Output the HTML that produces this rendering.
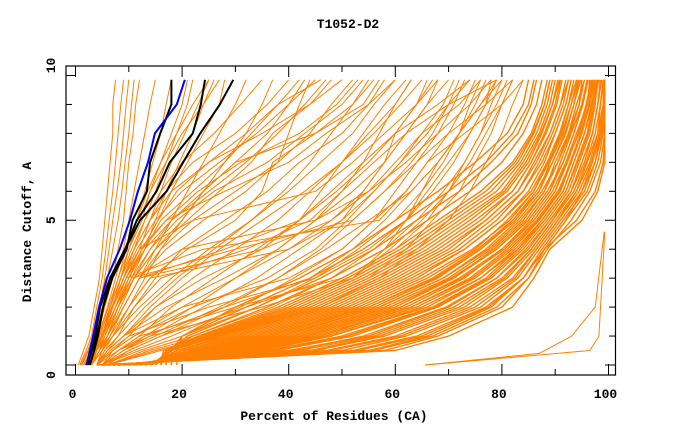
<!DOCTYPE html>
<html><head><meta charset="utf-8">
<style>
html,body{margin:0;padding:0;background:#fff;}
svg{display:block;}
text{font-family:"Liberation Mono","Courier New","DejaVu Sans Mono",monospace;font-weight:bold;fill:#000;}
</style></head>
<body>
<svg id="chart" width="680" height="440" viewBox="0 0 680 440" xmlns="http://www.w3.org/2000/svg">
<defs><clipPath id="clip"><rect x="66" y="66" width="550" height="309"/></clipPath></defs>
<text x="348" y="28" font-size="13" text-anchor="middle">T1052-D2</text>
<g id="series" clip-path="url(#clip)"></g>
<rect x="66" y="66" width="549.5" height="309" fill="none" stroke="#000" stroke-width="1.2"/>
<g id="axes"></g>
<text x="334" y="420" font-size="13" text-anchor="middle">Percent of Residues (CA)</text>
<text transform="translate(31,232) rotate(-90)" font-size="13" text-anchor="middle">Distance Cutoff, A</text>
</svg>
<script>
const cutoffLevels = [0, 0.5, 1, 2, 3, 4, 5, 6, 7, 8, 9, 9.85];
const xTicks = [0, 20, 40, 60, 80, 100];
const xMinorTicks = [10, 30, 50, 70, 90];
const yTicks = [0, 5, 10];
const yMinorTicks = [1, 2, 3, 4, 6, 7, 8, 9];
const denseSeries = [
[5,58,68,80,85,88,94,97.5,99,99.3,99.3,99.3],
[6,55,66,78,84,88,92,96,98,99,99.3,99.3],
[6,50,62,76,83,87,91,95,97,98.5,99,99.3],
[7,45,58,73,81,86,90,94,96,98,99,99],
[8,40,55,70,79,85,89,93,95,97,98,98.5],
[8,36,50,67,77,83,88,92,94,96,97,98],
[9,33,47,64,75,82,87,91,93,95,96.5,97.5],
[10,30,44,62,73,80,86,90,92,94,96,97],
[10,28,42,60,71,79,85,89,91,93,95,96],
[11,26,40,58,70,78,84,88,90,92.5,94,95.5],
[12,24,37,56,68,76,82,87,89,91.5,93,94.5],
[12,22,35,54,66,75,81,86,88.5,91,92.5,94],
[13,21,33,52,64,73,80,85,88,90,92,93],
[13,20,31,50,62,72,79,84,87,89.5,91.5,92.5],
[14,19,29,48,60,70,77,83,86,89,91,92],
[14,18,27,46,58,68,76,82,85.5,88,90,91],
[15,18,26,44,56,66,74,81,85,87.5,89.5,90.5],
[15,17,25,42,54,64,72,80,84,87,89,90],
[16,17,24,40,52,62,70,78,83,86,88,89],
[16,16.5,23,38,50,60,68,76,82,85.5,87.5,88.5],
[5,52,64,77,84,88,92,95,97.5,98.5,99.3,99.3],
[6,47,60,74,82,86.5,90.5,94,96.5,98,98.5,99],
[7,42,56,71,80,85.5,89.5,93,95.5,97,98,98.5],
[8,38,52,68,78,84,88.5,92.5,94.5,96.5,97.5,98],
[9,35,48,66,76,83,87.5,91.5,93.5,95.5,97,97.5],
[10,31,45,63,74,81,86.5,90.5,93,95,96.5,97],
[11,29,43,61,72,80,85.5,89.5,92,94.5,96,96.5],
[12,27,41,59,71,78.5,84.5,88.5,91.5,93.5,95,96],
[13,25,38,57,69,77,83,87.5,90.5,92.5,94.5,95],
[14,23,36,55,67,75.5,82,86.5,89.5,92,93.5,94.5],
[4,60,70,82,86,89,95,98,99.3,99.3,99.3,99.3],
[5,56,67,79,85,88.5,93,96.5,98.5,99.3,99.3,99.3],
[6,53,65,77.5,84,87.5,91.5,95.5,97.5,98.8,99.2,99.3],
[7,48,61,75,82.5,86.5,90.5,94.5,96.8,98.3,99,99.2],
[7,44,57,72,80.5,85.5,89.5,93.5,95.8,97.5,98.5,99],
[8,41,54,69.5,79,84.5,89,93,95,97,98,98.7],
[9,37,51,67.5,77.5,83.5,88,92,94.2,96.2,97.3,98.2],
[9,34,48,65,76,82.5,87.5,91.5,93.5,95.5,96.8,97.8],
[10,32,46,63,74.5,81.5,86.8,90.8,92.8,94.8,96.3,97.3],
[11,29,43,61,72.5,80.5,86,90,92.3,94.3,95.8,96.8],
[11,27,41,59,70.5,79,85,89,91.5,93.5,95.2,96.2],
[12,25,39,57,69,77.5,83.5,88,90.5,92.8,94.5,95.5],
[12,23,36,55,67.5,76,82.5,87,89.5,91.8,93.5,94.8],
[13,22,34,53,65,74.5,81.5,86,88.8,91.2,93,94.2],
[13,21,32,51,63,73,80,85.5,88.5,90.8,92.5,93.5],
[14,20,30,49,61,71,78,84,87.5,90,92,93],
[14,19,28,47,59,69,77,83,86.5,89,91,92.5],
[15,18,26.5,45,57,67,75,82,85.5,88.3,90.3,91.3],
[15,17.5,25.5,43,55,65,73,80.5,84.5,87.3,89.5,90.8],
[16,17,24.5,41,53,63,71,79,83.5,86.5,88.5,89.5],
[17,17,23.5,39,51,61,69,77,82.5,85.8,88,89],
[17,17,22,36,48,58,66,74,80,84,86.5,87.5],
[18,18,21,34,46,56,64,72,78,83,85.5,86.5],
[18,18,20,32,44,54,62,70,77,82,85,86],
[19,19,20,30,42,52,60,68,75,81,84,85]
];
const mediumSeries = [
[3,4,5,7.5,10,13,16,22,28,33,38,42],
[3,4.5,6,8,11,14,18,25,32,38,43,47],
[4,5,6.5,9,12,16,22,30,38,44,48,52],
[4,6,8,11,15,20,28,36,42,50,55,58],
[4,7,10,15,22,30,38,44,50,55,60,63],
[5,9,13,22,30,38,45,52,58,62,66,68],
[5,10,16,28,38,46,52,58,63,67,70,72],
[5,12,20,34,45,53,60,65,69,72,75,77],
[6,14,24,40,52,59,65,70,73,76,78,80],
[6,16,28,46,57,64,70,74,77,80,82,84],
[3,4.5,5.5,7.5,9.5,24,57,62,66,73,80,84],
[3,5,6,8,10.5,30,52,58,64,70,77,82],
[4,5,6.5,9,12,35,48,55,60,65,72,76],
[4,5.5,7,10,14,40,50,54,58,62,66,70],
[3,4,5,7,9,12,17,28,40,47,55,60],
[3,4,5.5,8,11,15,20,24,30,45,52,55],
[4,6,9,20,40,50,56,60,64,68,71,73],
[4,6.5,10,25,45,55,62,66,70,74,77,79],
[5,8,12,30,50,60,66,70,74,77,80,82],
[5,8,14,35,52,58,62,65,68,72,76,79],
[3,4,5,7,9,11,14,17,22,30,36,40],
[3,4,5,6.5,8.5,10.5,13,16,20,26,31,35],
[4,6,9,15,24,35,42,46,50,54,58,62],
[4,7,11,20,30,40,48,54,58,60,64,66],
[5,9,15,27,38,47,55,63,68,72,74,76],
[3,4,5.5,8,10,12.5,15.5,19,25,35,44,50],
[3,4.5,6,9,12,17,24,32,38,40,42,44],
[4,5,7,10,14,21,30,35,37,45,54,57],
[3,5,7,12,18,25,33,40,46,52,56,60],
[4,6,9,14,20,27,35,43,50,56,61,65],
[4,8,12,18,26,34,42,49,55,60,64,67],
[5,9,14,24,34,42,50,56,61,65,69,71],
[5,11,18,31,41,50,56,62,66,70,73,75],
[6,13,22,37,48,56,62,67,71,74,77,78],
[6,15,26,43,55,62,67,72,75,78,80,82],
[3,4,5,7,9,12,22,45,52,58,64,68],
[3,4.5,6,8.5,11,20,45,55,62,68,74,78],
[3,5,6.5,9,12,28,42,48,54,60,68,74],
[4,5,7,11,16,32,44,50,56,62,70,79],
[2.5,3.5,4.5,6.5,8.5,11,14,18,25,32,38,46],
[2.5,3.5,5,7,9.5,13,18,24,30,36,40,45],
[3,4,5.5,8,11,15,21,27,33,37,44,48],
[3,4,5,7.5,10.5,14,19,26,36,43,50,54],
[4,5.5,8,13,19,26,33,39,44,48,52,56],
[4,6,9,17,28,38,45,50,54,57,60,63],
[5,7,11,22,36,45,51,56,61,66,70,74],
[5,8,13,28,44,52,58,63,68,72,76,80],
[6,10,16,32,48,58,64,69,73,76,79,81],
[3,4,5,7,8.5,10,12,14,17,20,24,27],
[3,4,5,6.5,8,9.5,11.5,13.5,16,19,22,25],
[2.8,3.8,4.8,6.8,9,11.5,15,20,27,34,40,43],
[3,4,5,7,9.5,12.5,17,23,31,42,49,53]
];
const steepSeries = [
[0.5,1.5,2.5,3.5,4.5,5,5.5,6,6.5,7,7,7.5],
[0.8,2,3,4,5,5.7,6.3,7,7.5,8,8.5,9],
[1,2.3,3.3,4.5,5.5,6.3,7,7.8,8.5,9,9.5,10],
[1.2,2.5,3.5,5,6,7,8,8.7,9.3,10,10.5,11],
[1.5,2.8,4,5.5,7,8,9,9.5,10,10.8,11.3,12],
[1.5,3,4.2,6,7.5,9,10,11,12,13,14,15],
[2,3.2,4.5,6.5,8.5,10,11.5,13,14.5,16,17,18],
[2,3.5,5,7,9,11,13,15,17,19,21,22],
[2.5,4,5.5,8,10.5,13,15,17,19.5,22,24,26],
[2.5,4,6,9,12,15,18,21,24,27,30,32],
[3,4.5,6.5,10,13,16,20,24,28,32,35,37],
[2,3.3,4.8,7,9.5,12,14,16,18,20.5,23,25],
[1.8,3,4.3,6.2,8,10,12.5,14,16,18,20,21],
[2.2,3.6,5.2,7.5,10,12.5,15.5,18,21,24,27,28]
];
const outlierX = [[65.6,96.5,98.2,99.3],[65.6,87,93.1,97.5,99.2]];
const outlierY = [[0,0.5,1,4.6],[0,0.4,1,2,4.6]];
const blackSeries = [
[2,3.1,4,5.2,6.9,9.6,10.7,13.4,14,15.9,18,18],
[2.7,3.5,4.2,5.2,6.5,9.3,11.5,15.2,17.7,22,23.5,24.3],
[2.3,3,3.7,4.6,6.5,9.3,12.1,17.1,20.2,23.4,27.1,29.6]
];
const blackLevels = [0,0.5,1,2,3,4,5,6,7,8,9,9.85];
const blueSeries = [2.1,2.7,3.3,4.4,5.9,8.3,10.2,11.7,13.6,14.9,19,20.5];

function xs(v){return 75.5 + 5.33*v;}
function ys(v){return 365 - 28.95*v;}
const NS='http://www.w3.org/2000/svg';
const layer=document.getElementById('series');
const axes=document.getElementById('axes');
function pts(xa, ya){return xa.map((x,i)=>xs(x).toFixed(1)+','+ys(ya[i]).toFixed(1)).join(' ');}
function addLine(xa, ya, color, w, name){
  const p=document.createElementNS(NS,'polyline');
  p.setAttribute('points',pts(xa,ya));
  p.setAttribute('fill','none');
  p.setAttribute('stroke',color);
  p.setAttribute('stroke-width',w);
  p.setAttribute('stroke-linejoin','round');
  
  
  layer.appendChild(p);
}
denseSeries.forEach(s=>addLine(s,cutoffLevels,'#ff8000',1.4,'model-curve'));
mediumSeries.forEach(s=>addLine(s,cutoffLevels,'#ff8000',1,'model-curve'));
steepSeries.forEach(s=>addLine(s,cutoffLevels,'#ff8000',1,'model-curve'));
outlierX.forEach((s,i)=>addLine(s,outlierY[i],'#ff8000',1,'outlier-curve'));
blackSeries.forEach(s=>addLine(s,blackLevels,'#000',2,'highlight-curve'));
addLine(blueSeries,cutoffLevels,'#0000ff',2,'best-model-curve');

function tick(x1,y1,x2,y2,name){
  const l=document.createElementNS(NS,'line');
  l.setAttribute('x1',x1);l.setAttribute('y1',y1);l.setAttribute('x2',x2);l.setAttribute('y2',y2);
  l.setAttribute('stroke','#000');l.setAttribute('stroke-width','1');
  
  
  axes.appendChild(l);
}
function label(x,y,t,anchor,name){
  const e=document.createElementNS(NS,'text');
  e.setAttribute('x',x);e.setAttribute('y',y);e.setAttribute('font-size','13');
  e.setAttribute('text-anchor',anchor);e.textContent=t;
  
  
  axes.appendChild(e);
}
xTicks.forEach(v=>{const x=xs(v);tick(x,375,x,364,'x-tick');tick(x,66,x,77,'x-tick');label(x-3,398,String(v),'middle','x-tick-label');});
xMinorTicks.forEach(v=>{const x=xs(v);tick(x,375,x,369,'x-minor-tick');tick(x,66,x,72,'x-minor-tick');});
yTicks.forEach(v=>{const y=ys(v);tick(66,y,76,y,'y-tick');tick(615,y,605,y,'y-tick');
  const off = v===0 ? 10 : (v===10 ? -10 : 0);
  const e=document.createElementNS(NS,'text');
  e.setAttribute('transform','translate(55,'+(y+off)+') rotate(-90)');
  e.setAttribute('font-size','13');e.setAttribute('text-anchor','middle');e.textContent=String(v);
  
  
  axes.appendChild(e);
});
yMinorTicks.forEach(v=>{const y=ys(v);tick(66,y,72,y,'y-minor-tick');tick(615,y,609,y,'y-minor-tick');});
</script>
</body></html>
